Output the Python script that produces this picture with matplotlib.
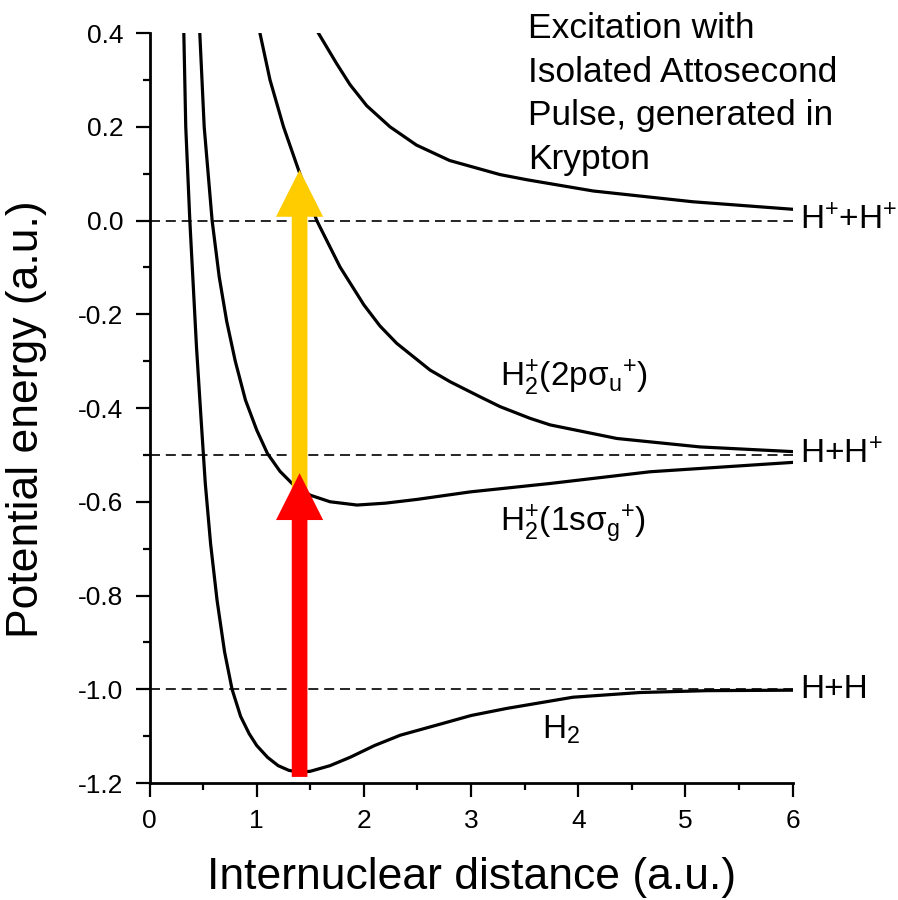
import matplotlib
matplotlib.use("Agg")
import matplotlib.pyplot as plt
from matplotlib.ticker import MultipleLocator, FormatStrFormatter

plt.rcParams['font.family'] = ['Liberation Sans', 'DejaVu Sans']
plt.rcParams['mathtext.default'] = 'regular'
plt.rcParams['axes.unicode_minus'] = False

# potential curves (R in a.u., E in a.u.)
h2_r = [0.32, 0.338, 0.376, 0.438, 0.48, 0.52, 0.57, 0.63, 0.70, 0.77, 0.85, 0.93, 1.0, 1.1,
        1.2, 1.3, 1.4, 1.5, 1.684, 1.873, 2.1, 2.34, 2.75, 3.0, 3.33, 3.95, 4.575, 5.2, 6.0]
h2_e = [0.40, 0.20, 0.0, -0.269, -0.42, -0.56, -0.69, -0.81, -0.92, -1.0, -1.058, -1.095, -1.12, -1.145,
        -1.163, -1.173, -1.177, -1.175, -1.163, -1.145, -1.12, -1.098, -1.072, -1.056, -1.041, -1.017,
        -1.007, -1.003, -1.002]

sg_r = [0.469, 0.51, 0.584, 0.65, 0.72, 0.80, 0.895, 1.0, 1.1, 1.217, 1.33, 1.5, 1.684, 1.936,
        2.2, 2.495, 2.99, 3.737, 4.67, 6.0]
sg_e = [0.40, 0.20, 0.0, -0.12, -0.215, -0.30, -0.383, -0.447, -0.497, -0.535, -0.561, -0.586, -0.60,
        -0.607, -0.603, -0.595, -0.579, -0.561, -0.536, -0.516]

su_r = [1.03, 1.124, 1.25, 1.39, 1.56, 1.777, 2.0, 2.15, 2.306, 2.617, 2.805, 3.083, 3.27,
        3.55, 3.737, 4.36, 5.135, 6.0]
su_e = [0.40, 0.30, 0.20, 0.108, 0.0, -0.099, -0.18, -0.225, -0.262, -0.319, -0.344, -0.376, -0.397,
        -0.422, -0.436, -0.465, -0.483, -0.493]

cc_r = [1.575, 1.745, 1.87, 2.026, 2.243, 2.49, 2.80, 3.27, 3.52, 4.14, 5.07, 6.0]
cc_e = [0.40, 0.335, 0.29, 0.245, 0.20, 0.161, 0.128, 0.098, 0.087, 0.063, 0.040, 0.024]

limits = [0.0, -0.5, -1.0]
limit_names = ['H$^{+}$+H$^{+}$', 'H+H$^{+}$', 'H+H']

# transitions at the equilibrium distance (start, tip)
r_eq = 1.4
red_arrow = (-1.187, -0.539)
gold_arrow = (-0.58, 0.108)

fig = plt.figure(figsize=(8.98, 9.0), dpi=100)
ax = fig.add_axes([0.1665, 0.13, 0.7162, 0.8333])

for lvl in limits:
    ax.plot([0, 6], [lvl, lvl], color='black', lw=1.2, ls=(0, (6, 3.5)), zorder=1)

for r, e in [(h2_r, h2_e), (sg_r, sg_e), (su_r, su_e), (cc_r, cc_e)]:
    ax.plot(r, e, color='black', lw=2.3, zorder=2, solid_joinstyle='round')

ax.arrow(r_eq, gold_arrow[0], 0, gold_arrow[1] - gold_arrow[0], width=0.146, head_width=0.44,
         head_length=0.1, length_includes_head=True, color='#FFCC00', lw=0, zorder=3)
ax.arrow(r_eq, red_arrow[0], 0, red_arrow[1] - red_arrow[0], width=0.146, head_width=0.44,
         head_length=0.1, length_includes_head=True, color='#FF0000', lw=0, zorder=4)

for lvl, name in zip(limits, limit_names):
    ax.text(6.07, lvl, name, fontsize=24, ha='left', va='center', clip_on=False)

ax.text(3.27, -0.336, 'H$_2^{+}$(2pσ$_u$$^{+}$)', fontsize=24, ha='left', va='center')
ax.text(3.27, -0.645, 'H$_2^{+}$(1sσ$_g$$^{+}$)', fontsize=24, ha='left', va='center')
ax.text(3.66, -1.087, 'H$_2$', fontsize=24, ha='left', va='center')

ax.text(3.53, 0.445, 'Excitation with\nIsolated Attosecond\nPulse, generated in\nKrypton',
        fontsize=25.5, ha='left', va='top', linespacing=1.41, clip_on=False)

ax.set_xlim(0, 6)
ax.set_ylim(-1.2, 0.4)
ax.xaxis.set_major_locator(MultipleLocator(1))
ax.xaxis.set_minor_locator(MultipleLocator(0.5))
ax.yaxis.set_major_locator(MultipleLocator(0.2))
ax.yaxis.set_minor_locator(MultipleLocator(0.1))
ax.yaxis.set_major_formatter(FormatStrFormatter('%.1f'))

ax.spines['top'].set_visible(False)
ax.spines['right'].set_visible(False)
for s in ['left', 'bottom']:
    ax.spines[s].set_linewidth(2)
ax.tick_params(which='major', direction='out', length=10, width=1.6, labelsize=19, pad=9)
ax.tick_params(which='minor', direction='out', length=5, width=1.6)

ax.set_xlabel('Internuclear distance (a.u.)', fontsize=32)
ax.set_ylabel('Potential energy (a.u.)', fontsize=32)
ax.xaxis.set_label_coords(0.5, -0.099)
ax.yaxis.set_label_coords(-0.16, 0.485)

fig.savefig('out.png', dpi=100)
